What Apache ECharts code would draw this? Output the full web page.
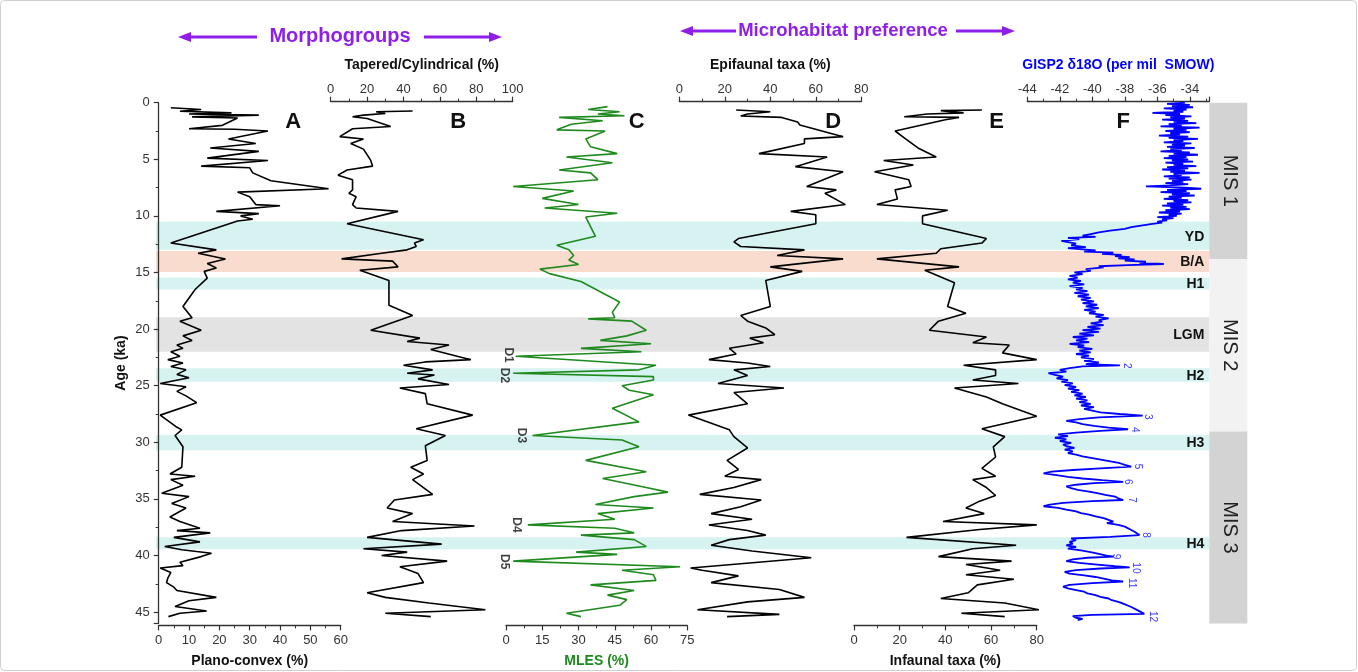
<!DOCTYPE html>
<html><head><meta charset="utf-8">
<script src="https://cdn.jsdelivr.net/npm/echarts@6/dist/echarts.min.js"></script>
<style>html,body{margin:0;padding:0;background:#fff}#c{width:1358px;height:672px}</style>
</head><body><div id="c"></div>
<script>
// ---------- DATA ----------
const ageTicks = [0,5,10,15,20,25,30,35,40,45];
const planoAge = [0.45,0.6,0.75,0.9,1.0,1.1,1.25,1.35,2.0,2.3,2.35,2.5,3.2,3.6,4.0,4.3,4.9,5.1,5.6,5.75,6.2,6.9,7.6,7.9,8.3,9.0,9.1,9.6,9.8,10.0,10.3,10.45,12.4,13.0,13.3,13.8,14.2,14.6,14.9,15.5,16.5,18.0,19.0,19.3,20.1,20.6,21.0,21.4,21.7,22.0,22.4,22.7,23.0,23.3,23.6,24.0,24.3,24.8,25.1,25.5,25.9,26.5,27.6,28.6,28.9,29.4,30.4,32.2,32.8,33.0,33.3,33.8,34.5,34.8,35.4,35.8,36.6,37.0,37.6,37.8,38.0,38.4,38.8,39.2,39.5,39.8,40.1,40.6,40.9,41.1,41.5,42.0,42.4,42.8,43.1,43.7,44.0,44.5,44.9,45.1,45.4];
const planoVal = [4,14,7,24,10,33,11,26,21,10,25,36,23,32,17,33,16,36,14,30,31,37,56,26,30,32,40,19,33,27,31,26,4,19,13,22,16,19,15,16,12,8,11,7,14,8,11,6,8,4,7,3,8,4,9,6,10,0.5,9,6,9,12.5,0.5,5.6,7.6,5.4,8,7.6,3.7,12,4,8,1,10,4.3,9,3.7,7,13.6,6,17,5,13.6,2,7.6,17.4,14,7,8,0.5,4,3,2.6,5,6,19,10,5.4,15.8,7,3.2];

const taperAge = [0.73,0.8,0.95,1.1,1.24,1.4,2.1,2.3,3.0,3.2,3.6,4.1,5.1,5.6,5.95,6.4,6.8,7.7,8.0,8.3,9.0,9.3,9.6,10.7,12.1,12.4,12.7,13.0,13.3,13.8,14.0,14.5,14.8,15.7,17.9,18.8,19.2,20.1,20.8,21.1,21.4,21.8,22.7,22.9,23.2,23.6,23.9,24.05,24.4,24.9,25.2,25.7,26.6,27.6,28.8,29.4,30.3,31.6,32.2,32.8,33.3,34.6,35.1,35.8,36.3,37.0,37.4,37.8,38.4,39.0,39.4,39.7,40.0,40.5,41.0,41.6,42.4,43.3,43.7,44.2,44.8,45.1,45.4];
const taperVal = [45,25,30,18,12,20,33,12,5,18,11,18,22,23,9,4,12,12,10,14,12,14,37,9,51,46,47,42,28,6,34,37,16,32,32,45,38,22,49,42,65,55,77,52,40,56,42,57,48,65,38,52,53,78,47,63,52,53,44,51,45,56,35,31,45,34,79,39,20,61,18,42,28,64,38,48,51,20,30,54,85,30,55];

const mlesAge = [0.35,0.6,0.8,1.0,1.15,1.3,1.6,1.9,2.4,2.5,3.2,3.9,4.5,4.8,5.3,5.95,6.2,6.8,7.4,7.8,8.45,9.0,9.3,9.77,10.1,11.8,12.6,13.0,13.5,13.9,14.3,14.7,15.1,15.8,17.6,18.5,19.0,19.1,19.3,20.1,20.6,21.0,21.3,21.7,22.0,22.4,23.2,23.6,23.9,24.2,24.5,25.0,25.4,25.8,27.0,28.2,29.4,29.8,30.4,31.6,32.6,33.2,33.9,34.4,34.8,35.5,35.8,36.3,36.8,37.3,37.6,38.0,38.2,38.6,39.2,39.7,39.9,40.5,41.0,41.3,41.7,42.2,42.6,43.1,43.5,43.9,44.4,45.1,45.4];
const mlesVal = [42,34,47,38,49,22,40,27,21,41,33,35,46,25,44,22,35,38,3,28,15,30,16,46,33,37,21,26,28,26,30,14,18,31,47,44,45,34,52,58,50,39,60,31,56,4,62,55,3,61,61,48,51,61,44,55,11,48,55,33,58,40,56,67,53,37,61,38,45,9,45,53,31,53,58,29,46,3,72,48,61,62,35,53,42,50,47,25,31];

const epiAge = [0.65,0.8,1.0,1.18,1.3,1.7,1.97,3.0,3.2,3.6,4.5,4.8,5.65,6.1,7.4,7.7,8.0,9.0,9.6,9.9,10.7,12.0,12.3,12.7,13.0,13.5,13.8,14.5,14.9,15.7,18.0,18.8,19.3,19.9,20.5,20.8,21.2,21.7,22.2,22.7,23.0,23.3,23.6,24.1,24.8,25.2,25.6,26.6,27.6,28.9,29.5,30.5,31.6,32.4,33.0,33.3,34.0,34.6,35.1,35.7,36.3,36.8,37.3,37.8,38.2,38.6,39.1,39.6,40.2,41.1,41.3,41.8,42.4,43.0,43.7,44.1,44.8,45.2,45.4];
const epiVal = [25,40,30,27,45,52,53,72,55,55,35,65,51,72,56,69,64,73,49,60,60,26,24,27,55,43,72,40,54,38,40,27,30,38,42,31,37,22,25,13,30,40,24,30,17,46,24,30,4,22,24,30,21,26,20,36,24,9,36,27,14,32,13,30,38,22,14,32,58,5,10,26,14,44,55,30,8,44,21];

const infAge = [0.65,0.7,0.9,1.0,1.24,1.3,1.5,2.5,3.1,4.0,4.8,5.1,5.5,6.1,6.8,7.4,7.7,8.5,9.0,9.5,10.0,10.7,12.0,12.4,12.9,13.3,13.8,14.5,14.8,15.9,18.0,18.6,19.3,20.1,20.7,21.2,21.4,22.1,22.7,23.2,23.6,24.1,24.5,24.8,25.2,26.0,26.6,27.7,28.8,29.5,30.4,31.3,32.3,33.0,33.3,34.0,34.7,35.2,35.8,36.3,37.0,37.3,37.7,38.4,39.1,39.4,40.1,40.5,40.8,41.3,41.7,42.1,42.6,43.3,43.8,44.2,44.8,45.1,45.4];
const infVal = [56,38,48,32,22,46,40,18,22,28,36,13,26,9,24,25,18,19,10,41,30,30,58,56,38,36,10,46,31,44,41,49,37,33,58,52,68,65,80,48,62,62,52,72,44,58,65,80,56,66,61,62,56,62,52,58,62,55,49,57,39,80,55,23,71,52,37,69,49,64,49,70,54,50,38,66,81,47,66];

const gispAge = [0.0,0.1,0.2,0.3,0.4,0.5,0.6,0.7,0.8,0.9,1.0,1.1,1.2,1.3,1.4,1.5,1.6,1.7,1.8,1.9,2.0,2.1,2.2,2.3,2.4,2.5,2.6,2.7,2.8,2.9,3.0,3.1,3.2,3.3,3.4,3.5,3.6,3.7,3.8,3.9,4.0,4.1,4.2,4.3,4.4,4.5,4.6,4.7,4.8,4.9,5.0,5.1,5.2,5.3,5.4,5.5,5.6,5.7,5.8,5.9,6.0,6.1,6.2,6.3,6.4,6.5,6.6,6.7,6.8,6.9,7.0,7.1,7.2,7.3,7.4,7.5,7.6,7.7,7.8,7.9,8.0,8.1,8.2,8.3,8.4,8.5,8.6,8.7,8.8,8.9,9.0,9.1,9.2,9.3,9.4,9.5,9.6,9.7,9.8,9.9,10.0,10.1,10.2,10.3,10.4,10.5,10.6,10.7,10.85,11.0,11.15,11.3,11.45,11.6,11.75,11.85,11.95,12.05,12.2,12.3,12.45,12.6,12.75,12.85,12.95,13.05,13.15,13.25,13.35,13.45,13.55,13.65,13.75,13.85,13.95,14.05,14.15,14.25,14.35,14.45,14.55,14.7,14.85,15.0,15.15,15.3,15.45,15.6,15.75,15.9,16.05,16.2,16.35,16.5,16.65,16.8,16.95,17.1,17.25,17.4,17.55,17.7,17.85,18.0,18.15,18.3,18.45,18.6,18.75,18.9,19.05,19.2,19.35,19.5,19.65,19.8,19.95,20.1,20.25,20.4,20.55,20.7,20.85,21.0,21.15,21.3,21.45,21.6,21.75,21.9,22.05,22.2,22.35,22.5,22.65,22.8,22.95,23.1,23.2,23.3,23.45,23.6,23.75,23.9,24.05,24.2,24.35,24.5,24.65,24.8,24.95,25.1,25.25,25.4,25.55,25.7,25.85,26.0,26.15,26.3,26.45,26.6,26.75,26.9,27.05,27.2,27.35,27.5,27.65,27.8,27.95,28.1,28.25,28.4,28.55,28.7,28.85,29.0,29.15,29.3,29.45,29.6,29.75,29.9,30.05,30.2,30.35,30.5,30.65,30.8,30.95,31.1,31.25,31.4,31.55,31.7,31.85,32.0,32.15,32.3,32.45,32.6,32.75,32.9,33.05,33.2,33.35,33.5,33.6,33.75,33.9,34.05,34.2,34.35,34.5,34.65,34.8,34.95,35.1,35.2,35.35,35.5,35.65,35.8,35.95,36.1,36.25,36.4,36.55,36.7,36.85,37.0,37.15,37.3,37.45,37.6,37.75,37.9,38.05,38.2,38.35,38.5,38.65,38.8,38.95,39.1,39.25,39.4,39.55,39.7,39.85,40.0,40.1,40.2,40.35,40.5,40.65,40.8,40.95,41.05,41.15,41.3,41.45,41.6,41.75,41.9,42.05,42.2,42.3,42.45,42.6,42.75,42.9,43.05,43.2,43.35,43.5,43.65,43.8,43.95,44.1,44.25,44.4,44.55,44.7,44.85,45.0,45.15,45.25,45.35,45.5,45.6,45.7];
const gispVal = [-34.3,-35.4,-34.0,-35.1,-33.8,-35.6,-34.2,-35.0,-34.4,-36.3,-34.6,-35.5,-33.9,-35.2,-34.3,-35.7,-34.1,-35.0,-33.6,-35.3,-34.5,-35.8,-33.4,-35.0,-34.2,-35.5,-34.0,-35.2,-34.6,-35.9,-34.1,-35.3,-33.5,-35.0,-34.4,-35.6,-33.9,-35.1,-34.3,-35.4,-33.7,-35.2,-34.5,-35.8,-34.0,-35.0,-33.5,-35.3,-34.2,-35.6,-34.1,-35.1,-33.8,-35.5,-34.4,-35.0,-33.6,-35.4,-34.1,-35.7,-34.3,-35.2,-33.4,-35.0,-34.5,-35.6,-34.0,-35.3,-33.9,-35.1,-34.4,-35.5,-34.1,-35.2,-36.7,-34.3,-33.3,-35.4,-34.2,-35.8,-34.0,-35.1,-33.7,-35.3,-34.5,-35.6,-34.1,-35.0,-33.9,-35.4,-34.4,-35.7,-34.2,-35.2,-34.0,-35.5,-34.6,-35.9,-34.5,-35.3,-34.8,-36.0,-35.0,-35.7,-35.4,-36.0,-35.7,-36.3,-37.0,-37.6,-38.0,-38.9,-39.6,-40.1,-40.6,-39.8,-41.5,-40.8,-41.9,-42.0,-41.0,-41.3,-40.4,-41.5,-40.6,-39.8,-40.5,-38.7,-39.4,-38.2,-38.6,-37.7,-38.4,-37.4,-38.0,-36.7,-37.1,-35.6,-37.8,-39.6,-39.3,-40.4,-40.1,-41.1,-40.6,-41.4,-40.9,-41.5,-40.7,-41.2,-40.5,-41.4,-40.6,-41.0,-40.3,-41.1,-40.2,-40.9,-40.1,-40.7,-39.9,-40.6,-39.7,-40.4,-39.6,-40.5,-39.8,-40.2,-39.3,-39.8,-39.0,-39.6,-39.4,-40.1,-39.3,-40.3,-39.5,-40.6,-39.6,-40.8,-39.9,-41.2,-40.3,-41.0,-40.2,-41.4,-40.5,-40.9,-40.0,-40.8,-40.1,-41.0,-40.2,-40.7,-39.9,-40.5,-39.6,-40.4,-38.3,-40.6,-41.4,-42.0,-41.6,-42.7,-42.3,-41.8,-42.2,-41.5,-41.9,-41.2,-41.7,-41.0,-41.5,-40.8,-41.3,-40.6,-41.1,-40.4,-41.0,-40.3,-40.8,-40.1,-40.7,-39.9,-40.5,-40.0,-39.5,-38.3,-36.9,-39.6,-40.8,-41.6,-41.0,-40.6,-39.9,-39.0,-37.8,-39.5,-41.0,-42.1,-41.5,-42.3,-41.6,-42.0,-41.3,-41.8,-41.6,-41.1,-41.7,-41.2,-41.5,-41.0,-40.6,-40.0,-39.4,-38.8,-38.3,-38.0,-37.6,-39.5,-41.2,-42.5,-43.0,-42.2,-41.5,-40.6,-39.4,-38.1,-39.9,-41.0,-41.6,-41.3,-40.9,-40.2,-39.7,-39.2,-38.6,-38.4,-38.1,-40.0,-41.8,-42.6,-43.0,-42.1,-41.6,-41.0,-40.7,-40.2,-39.8,-39.3,-39.0,-38.7,-39.1,-38.4,-38.0,-37.9,-37.6,-37.4,-37.3,-37.1,-38.9,-41.3,-41.0,-41.4,-41.2,-41.6,-41.0,-41.5,-40.7,-40.1,-39.6,-39.2,-38.7,-40.3,-41.2,-41.6,-40.8,-39.7,-38.6,-37.7,-39.5,-41.0,-41.7,-41.4,-40.5,-39.8,-39.3,-38.8,-38.1,-40.0,-41.4,-41.8,-41.5,-41.0,-40.5,-40.3,-39.8,-39.5,-39.0,-38.8,-38.4,-38.1,-38.0,-37.6,-37.6,-37.2,-37.0,-36.8,-40.0,-41.2,-41.0,-40.6,-40.9];

// event bands: [start ka, end ka, label, kind]
const bandStart = [10.5, 13.1, 15.45, 18.95, 23.45, 29.35, 38.4];
const bandEnd   = [13.0, 14.95, 16.5, 22.0, 24.65, 30.7, 39.45];
const bandLabel = ['YD','B/A','H1','LGM','H2','H3','H4'];
const bandKind  = ['cold','warm','cold','lgm','cold','cold','cold'];

const misStart = [0, 13.8, 29.05];
const misEnd   = [13.8, 29.05, 46];
const misLabel = ['MIS 1','MIS 2','MIS 3'];

const dLabel = ['D1','D2','D3','D4','D5'];
const dVal   = [1.0, -0.8, 6.5, 4.4, -0.8];
const dAge   = [22.3, 24.1, 29.4, 37.3, 40.55];

const isLabel = ['2','3','4','5','6','7','8','9','10','11','12'];
const isVal   = [-37.9,-36.6,-37.4,-37.2,-37.8,-37.6,-36.7,-38.55,-37.3,-37.6,-36.3];
const isAge   = [23.25,27.75,28.9,32.15,33.5,35.1,38.2,40.1,41.1,42.45,45.4];

// ---------- CHART ----------
const FONT = 'Liberation Sans, Arial, sans-serif';
const AXC = '#333';
const PURPLE = '#8f1ee8';
const GREEN = '#1e8a1e';
const BLUE = '#0000ff';
const bandColor = {cold:'#d7f3f1', warm:'#f9dccd', lgm:'#e3e3e3'};
const misColor = ['#d3d3d3','#f2f2f2','#d3d3d3'];

const TOP = 102.7, H = 520.7;
const zip = (ages, vals) => ages.map((a,i)=>[vals[i], a]);

const chart = echarts.init(document.getElementById('c'), null, {renderer:'canvas'});

const yHidden = (gi) => ({gridIndex:gi, type:'value', min:0, max:46, inverse:true, show:false});
function xAx(gi, pos, min, max, interval, name, nameColor, extra) {
  return Object.assign({
    gridIndex:gi, type:'value', position:pos, min:min, max:max, interval:interval,
    name:name, nameLocation:'middle', nameGap: pos==='top'?30:29,
    nameTextStyle:{fontFamily:FONT, fontWeight:'bold', fontSize:14, color:nameColor},
    axisLine:{show:true, onZero:false, lineStyle:{color:AXC, width:1.3}},
    axisTick:{show:true, length:5, lineStyle:{color:AXC, width:1.2}},
    minorTick:{show:true, splitNumber:2, length:3, lineStyle:{color:AXC, width:1}},
    axisLabel:{fontFamily:FONT, fontSize:13, color:'#333', margin: pos==='top'?6:9},
    splitLine:{show:false}
  }, extra||{});
}

const G = (o) => Object.assign({outerBoundsMode:'none', containLabel:false}, o);
const grids = [
  G({left:156, top:TOP, width:1053.3, height:H}),   // 0 background bands
  G({left:1209.3, top:TOP, width:38, height:H}),    // 1 MIS column
  G({left:158.7, top:TOP, width:182, height:H}),    // 2 A
  G({left:330.7, top:TOP, width:182, height:H}),    // 3 B
  G({left:506, top:TOP, width:181.3, height:H}),    // 4 C
  G({left:679.3, top:TOP, width:182, height:H}),    // 5 D
  G({left:854, top:TOP, width:182.7, height:H}),    // 6 E
  G({left:1027.3, top:TOP, width:182, height:H})    // 7 F
];

const xAxes = [
  {gridIndex:0, type:'value', min:0, max:1, show:false},
  {gridIndex:1, type:'value', min:0, max:1, show:false},
  xAx(2,'bottom',0,60,10,'Plano-convex (%)','#111',{offset:2}),
  xAx(3,'top',0,100,20,'Tapered/Cylindrical (%)','#111',{offset:1}),
  xAx(4,'bottom',0,75,15,'MLES (%)',GREEN,{offset:2}),
  xAx(5,'top',0,80,20,'Epifaunal taxa (%)','#111',{offset:1}),
  xAx(6,'bottom',0,80,20,'Infaunal taxa (%)','#111',{offset:2}),
  xAx(7,'top',-44,-32.8,2,'GISP2 \u03b418O (per mil  SMOW)',BLUE,{offset:1,
     axisLabel:{fontFamily:FONT, fontSize:13, color:'#333', margin:6,
       formatter:(v)=> (Math.abs(v % 2) < 1e-6 ? String(v) : '')}})
];

const yAxes = [
  yHidden(0), yHidden(1),
  {gridIndex:2, type:'value', min:0, max:46, interval:5, inverse:true, position:'left', offset:3,
   name:'Age (ka)', nameLocation:'middle', nameGap:28,
   nameTextStyle:{fontFamily:FONT, fontWeight:'bold', fontSize:14, color:'#111'},
   axisLine:{show:true, lineStyle:{color:AXC, width:1.3}},
   axisTick:{show:true, length:5, lineStyle:{color:AXC, width:1.2}},
   minorTick:{show:true, splitNumber:2, length:3, lineStyle:{color:AXC, width:1}},
   axisLabel:{fontFamily:FONT, fontSize:13, color:'#333', margin:6, showMaxLabel:false,
     formatter:(v)=> ageTicks.indexOf(v) >= 0 ? String(v) : ''},
   splitLine:{show:false}},
  yHidden(3), yHidden(4), yHidden(5), yHidden(6), yHidden(7)
];

const bandData = bandStart.map((s,i)=>[s, bandEnd[i], i]);
const misData = misStart.map((s,i)=>[s, misEnd[i], i]);

function lineSeries(gi, data, color, w) {
  return {type:'line', xAxisIndex:gi, yAxisIndex:gi, data:data, showSymbol:false, symbol:'none',
    lineStyle:{color:color, width:w||1.6}, itemStyle:{color:color}, animation:false, z:3, clip:false};
}
function labelSeries(gi, names, vals, ages, color, size, bold) {
  return {type:'scatter', xAxisIndex:gi, yAxisIndex:gi, symbolSize:0, z:5, clip:false, animation:false,
    data: names.map((n,i)=>({name:n, value:[vals[i], ages[i]]})),
    label:{show:true, formatter:'{b}', rotate:-90, position:'inside', color:color,
      fontFamily:FONT, fontSize:size, fontWeight: bold?'bold':'normal'}};
}

const series = [
  {type:'custom', xAxisIndex:0, yAxisIndex:0, z:0, animation:false, data:bandData, clip:false,
   renderItem:function(params, api){
     const s = api.value(0), e = api.value(1), i = api.value(2);
     const p0 = api.coord([0, s]), p1 = api.coord([1, e]);
     return {type:'group', children:[
       {type:'rect', shape:{x:p0[0], y:p0[1], width:p1[0]-p0[0], height:p1[1]-p0[1]},
        style:{fill:bandColor[bandKind[i]]}, z2:0},
       {type:'text', x:p1[0]-5, y:(p0[1]+p1[1])/2+1, z2:10,
        style:{text:bandLabel[i], fill:'#111', font:'bold 14px '+FONT, align:'right', verticalAlign:'middle'}}
     ]};
   }},
  {type:'custom', xAxisIndex:1, yAxisIndex:1, z:0, animation:false, data:misData, clip:false,
   renderItem:function(params, api){
     const s = api.value(0), e = api.value(1), i = api.value(2);
     const p0 = api.coord([0, s]), p1 = api.coord([1, e]);
     return {type:'group', children:[
       {type:'rect', shape:{x:p0[0], y:p0[1], width:p1[0]-p0[0], height:p1[1]-p0[1]},
        style:{fill:misColor[i]}},
       {type:'text', x:(p0[0]+p1[0])/2+1, y:(p0[1]+p1[1])/2, rotation:-Math.PI/2,
        style:{text:misLabel[i], fill:'#222', font:'20px '+FONT, align:'center', verticalAlign:'middle'}}
     ]};
   }},
  lineSeries(2, zip(planoAge, planoVal), '#000'),
  lineSeries(3, zip(taperAge, taperVal), '#000'),
  lineSeries(4, zip(mlesAge, mlesVal), GREEN),
  lineSeries(5, zip(epiAge, epiVal), '#000'),
  lineSeries(6, zip(infAge, infVal), '#000'),
  lineSeries(7, zip(gispAge, gispVal), BLUE, 1.8),
  labelSeries(4, dLabel, dVal, dAge, '#111', 12, true),
  labelSeries(7, isLabel, isVal, isAge, BLUE, 10, false)
];

function arrow(x1, x2, y, dir) {
  const hx = dir==='left' ? x1 : x2;
  const back = dir==='left' ? hx+13 : hx-13;
  return [
    {type:'line', shape:{x1: dir==='left'? back : x1, y1:y, x2: dir==='left'? x2 : back, y2:y},
     style:{stroke:PURPLE, lineWidth:3}},
    {type:'polygon', shape:{points:[[hx,y],[back,y-5],[back,y+5]]}, style:{fill:PURPLE}}
  ];
}
const letter = (t,x,y) => ({type:'text', x:x, y:y, style:{text:t, font:'bold 22px '+FONT, fill:'#111', align:'center', verticalAlign:'middle'}});

const graphic = [
  {type:'rect', shape:{x:0.5, y:0.5, width:1356, height:670, r:4}, style:{fill:null, stroke:'#cfcfcf', lineWidth:1}},
  {type:'text', x:340, y:36, style:{text:'Morphogroups', font:'bold 20px '+FONT, fill:PURPLE, align:'center', verticalAlign:'middle'}},
  ...arrow(178, 257, 37, 'left'),
  ...arrow(424, 502, 37, 'right'),
  {type:'text', x:843, y:31, style:{text:'Microhabitat preference', font:'bold 18.5px '+FONT, fill:PURPLE, align:'center', verticalAlign:'middle'}},
  ...arrow(680, 736, 31, 'left'),
  ...arrow(956, 1015, 31, 'right'),
  letter('A',293.3,121.7), letter('B',458.3,121.7), letter('C',636.7,121.7),
  letter('D',833.3,121.7), letter('E',996.7,121.7), letter('F',1123.3,121.7)
];

chart.setOption({
  animation:false,
  backgroundColor:'#fff',
  grid: grids, xAxis: xAxes, yAxis: yAxes, series: series, graphic: graphic
});
</script></body></html>
